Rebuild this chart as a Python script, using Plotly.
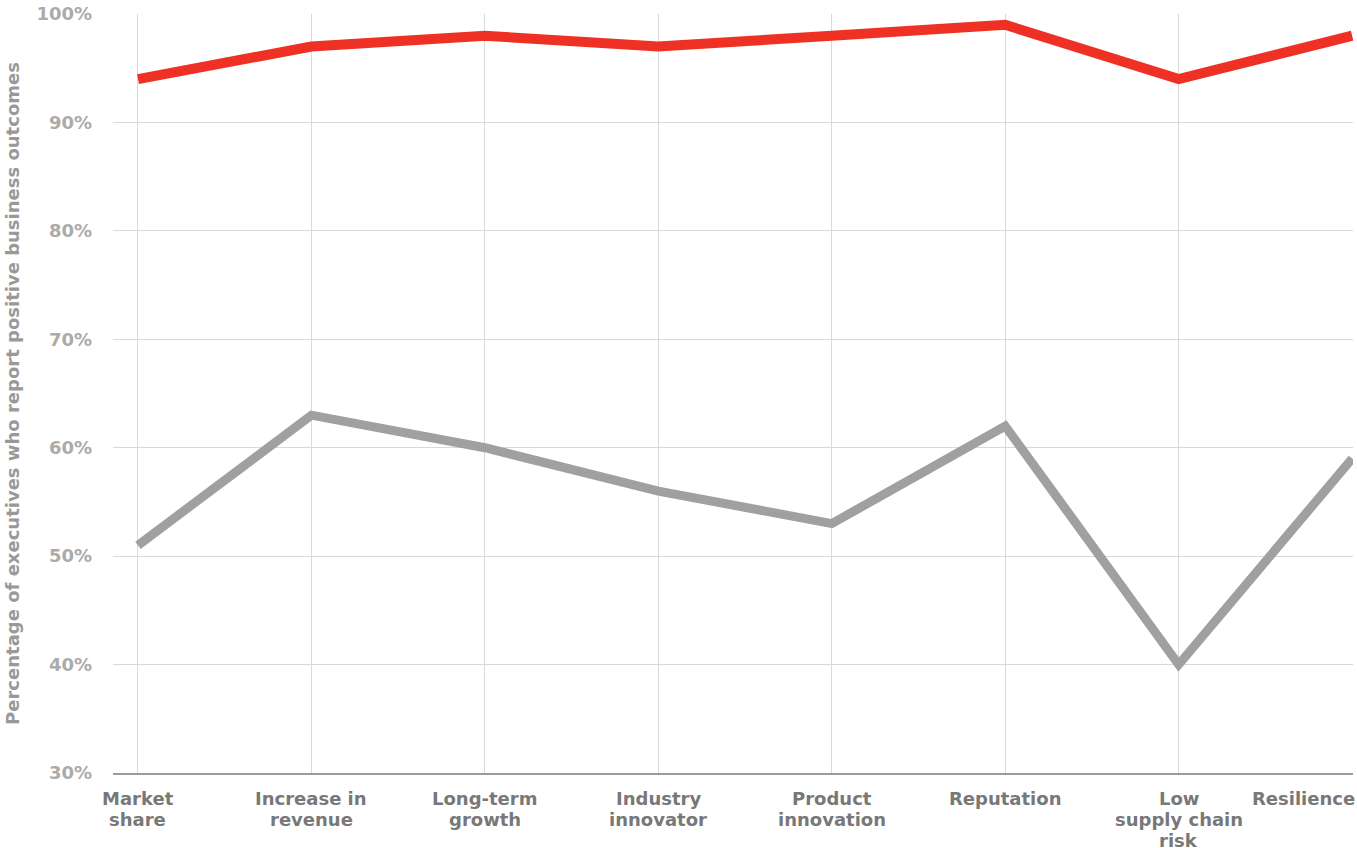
import plotly.graph_objects as go

categories = ["Market share", "Increase in revenue", "Long-term growth", "Industry innovator",
              "Product innovation", "Reputation", "Low supply chain risk", "Resilience"]
category_lines = [["Market", "share"], ["Increase in", "revenue"], ["Long-term", "growth"],
                  ["Industry", "innovator"], ["Product", "innovation"], ["Reputation"],
                  ["Low", "supply chain", "risk"], ["Resilience"]]
leaders = [94, 97, 98, 97, 98, 99, 94, 98]
others = [51, 63, 60, 56, 53, 62, 40, 59]
y_ticks = [30, 40, 50, 60, 70, 80, 90, 100]

FONT = "DejaVu Sans, Verdana, sans-serif"
idx = list(range(len(categories)))

fig = go.Figure()
fig.add_trace(go.Scatter(x=idx, y=others, mode="lines", name="Others",
                         line=dict(color="#a0a0a0", width=9), hoverinfo="skip"))
fig.add_trace(go.Scatter(x=idx, y=leaders, mode="lines", name="Leaders",
                         line=dict(color="#ee3124", width=10), hoverinfo="skip"))

# Category labels below the axis, one annotation per text line for tight spacing;
# the last label is right-aligned so it stays inside the page
for i, lines in enumerate(category_lines):
    last = i == len(category_lines) - 1
    for j, line in enumerate(lines):
        fig.add_annotation(x=i, y=0, xref="x", yref="paper", text=f"<b>{line}</b>",
                           showarrow=False, xanchor="right" if last else "center",
                           xshift=4 if last else 0,
                           yanchor="top", yshift=-14 - 21 * j, align="center",
                           borderpad=0,
                           font=dict(family=FONT, size=18, color="#787878"))

fig.update_layout(
    width=1357, height=848,
    margin=dict(l=113, r=4, t=14, b=75),
    paper_bgcolor="white", plot_bgcolor="white",
    showlegend=False,
    xaxis=dict(range=[-0.144, 7.005], tickvals=idx, showticklabels=False,
               showgrid=True, gridcolor="#d9d9d9", gridwidth=1,
               zeroline=False, showline=True, linecolor="#9a9a9a", linewidth=2),
    yaxis=dict(range=[30, 100], tickvals=y_ticks,
               ticktext=[f"<b>{v}%</b>" for v in y_ticks],
               tickfont=dict(family=FONT, size=18, color="#ababab"),
               ticklabelstandoff=20,
               showgrid=True, gridcolor="#d9d9d9", gridwidth=1, zeroline=False,
               title=dict(text="<b>Percentage of executives who report positive business outcomes</b>",
                          font=dict(family=FONT, size=18, color="#999999"), standoff=12)),
)

fig.write_html("out.html")
